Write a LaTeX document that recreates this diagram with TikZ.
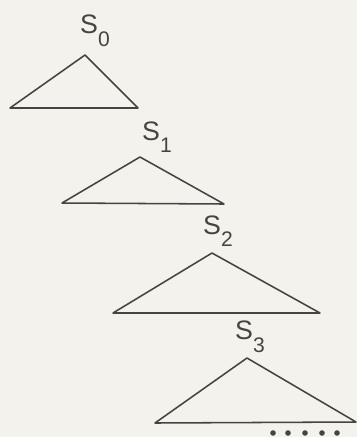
\documentclass[tikz,border=0pt]{standalone}
\usepackage{fontspec}
\setmainfont{Liberation Sans}
\usetikzlibrary{calc}

\definecolor{paper}{RGB}{243,242,236}
\definecolor{ink}{RGB}{70,68,64}
\newcommand{\stagelabel}[1]{S\raisebox{-9pt}{\fontsize{15}{15}\selectfont #1}}

\begin{document}
\begin{tikzpicture}[x=0.025cm, y=-0.025cm,
  tri/.style={ink, line width=1.1pt, line join=round},
  lab/.style={ink, font=\fontsize{19}{22}\selectfont, inner sep=0pt}]
  % paper and frame
  \fill[paper] (0,0) rectangle (357,437);
  \useasboundingbox (0,0) rectangle (357,437);

  % stage 0
  \node[lab] (s0) at (95,31) {\stagelabel{0}};
  \coordinate (a0) at (85,55);
  \coordinate (l0) at (10,108);
  \coordinate (r0) at (138,108);
  \draw[tri] (a0) -- (l0) -- (r0) -- cycle;

  % stage 1
  \node[lab] (s1) at (157,137) {\stagelabel{1}};
  \coordinate (a1) at (140,157);
  \coordinate (l1) at (62,203);
  \coordinate (r1) at (224,204);
  \draw[tri] (a1) -- (l1) -- (r1) -- cycle;

  % stage 2
  \node[lab] (s2) at (218,231) {\stagelabel{2}};
  \coordinate (a2) at (212,253);
  \coordinate (l2) at (113,313);
  \coordinate (r2) at (320,313);
  \draw[tri] (a2) -- (l2) -- (r2) -- cycle;

  % stage 3
  \node[lab] (s3) at (250,337) {\stagelabel{3}};
  \coordinate (a3) at (247,358);
  \coordinate (l3) at (155,423);
  \coordinate (r3) at (356,422);
  \draw[tri] (a3) -- (l3) -- (r3) -- cycle;

  % continuation dots
  \foreach \x in {273,288,305,322,337}
    \fill[ink] (\x,433) circle (2.8);
\end{tikzpicture}
\end{document}
